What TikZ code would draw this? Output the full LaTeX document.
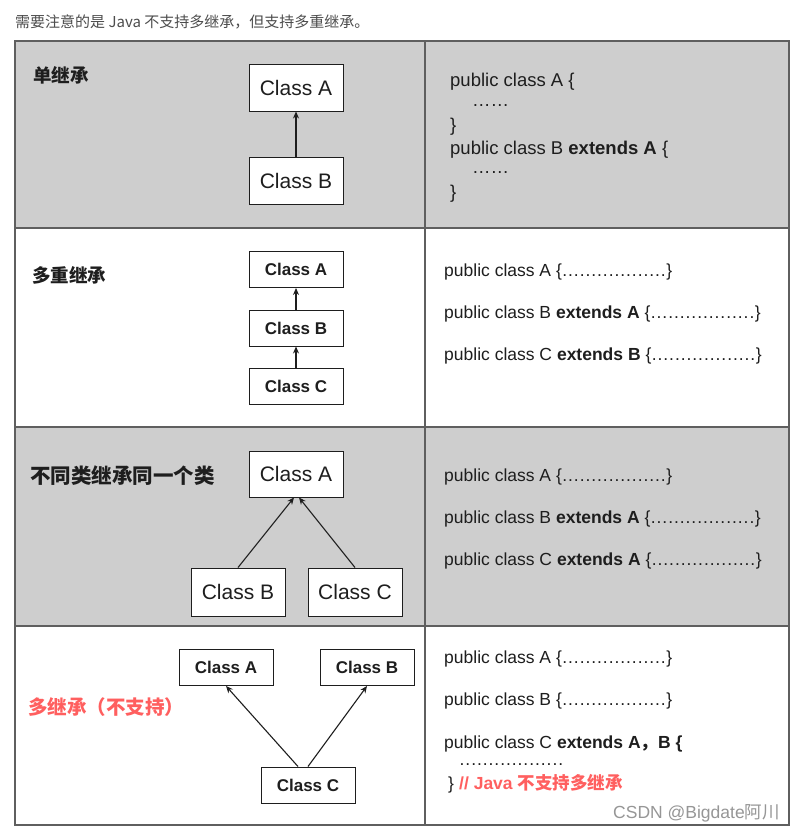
\documentclass[tikz,border=0pt]{standalone}
\usepackage{fontspec}
\setmainfont{Liberation Sans}
\newfontfamily\cjk{Noto Sans CJK SC}
\usetikzlibrary{arrows.meta}
\definecolor{tgray}{RGB}{206,206,206}
\definecolor{tline}{RGB}{95,95,95}
\definecolor{txt}{RGB}{30,30,30}
\definecolor{redtxt}{RGB}{255,95,95}
\definecolor{hdr}{RGB}{77,77,77}
\definecolor{wm}{RGB}{150,150,150}
\newcommand{\dt}{\hbox to 5.8pt{\hss.\hss}}
\newcommand{\dtsix}{\dt\dt\dt\dt\dt\dt}
\newcommand{\dts}{\dtsix\dtsix\dtsix}
\begin{document}
\begin{tikzpicture}[x=1pt,y=-1pt,
 cls/.style={draw=txt, fill=white, line width=1pt, minimum width=94pt, inner sep=0pt, text=txt},
 big/.style={cls, minimum height=47pt, font=\fontsize{21}{24}\selectfont},
 small/.style={cls, minimum height=36pt, font=\fontsize{17}{20}\selectfont\bfseries},
 arr/.style={draw=txt, line width=1.1pt, -{Stealth[length=7pt,width=6pt]}},
 lbl/.style={anchor=base west, inner sep=0pt, text=txt, font=\cjk\bfseries\fontsize{18.5}{22}\selectfont},
 code/.style={anchor=base west, inner sep=0pt, text=txt, font=\fontsize{17.5}{21}\selectfont},
 codebig/.style={anchor=base west, inner sep=0pt, text=txt, font=\fontsize{18.5}{22}\selectfont},
 tbl/.style={draw=tline, line width=1.6pt},
]
\useasboundingbox (0,0) rectangle (798,831);
\fill[white] (0,0) rectangle (798,831);

% header
\node[anchor=base west, inner sep=0pt, text=hdr, font=\cjk\fontsize{15}{18}\selectfont] (hdr) at (15,27.5) {需要注意的是 Java 不支持多继承，但支持多重继承。};

% table backgrounds
\fill[tgray] (15,41) rectangle (789,228);
\fill[tgray] (15,427) rectangle (789,626);
\draw[tbl] (15,41) rectangle (789,825);
\draw[tbl] (15,228) -- (789,228);
\draw[tbl] (15,427) -- (789,427);
\draw[tbl] (15,626) -- (789,626);
\draw[tbl] (425,41) -- (425,825);

% row 1
\node[lbl] (l1) at (33,82) {单继承};
\node[big] (r1a) at (296,87.5) {Class A};
\node[big] (r1b) at (296,181) {Class B};
\draw[arr] (r1b) -- (r1a);
\node[codebig] (c11) at (450,86.5) {public class A \{};
\node[codebig] (c12) at (472,106) {……};
\node[codebig] (c13) at (450,131) {\}};
\node[codebig] (c14) at (450,154.5) {public class B \textbf{extends A} \{};
\node[codebig] (c15) at (472,173.5) {……};
\node[codebig] (c16) at (450,198) {\}};

% row 2
\node[lbl] (l2) at (32,282) {多重继承};
\node[small] (r2a) at (296,269.5) {Class A};
\node[small] (r2b) at (296,328) {Class B};
\node[small] (r2c) at (296,386) {Class C};
\draw[arr] (r2b) -- (r2a);
\draw[arr] (r2c) -- (r2b);
\node[code] (c21) at (444,276.3) {public class A \{\dts\}};
\node[code] (c22) at (444,318.3) {public class B \textbf{extends A} \{\dts\}};
\node[code] (c23) at (444,360.3) {public class C \textbf{extends B} \{\dts\}};

% row 3
\node[lbl, font=\cjk\bfseries\fontsize{20.5}{24}\selectfont] (l3) at (30,483) {不同类继承同一个类};
\node[big, minimum height=46pt] (r3a) at (296,474) {Class A};
\node[big, minimum height=48pt] (r3b) at (238,592) {Class B};
\node[big, minimum height=48pt] (r3c) at (355,592) {Class C};
\draw[arr] (r3b.north) -- ([xshift=-2pt]r3a.south);
\draw[arr] (r3c.north) -- ([xshift=3pt]r3a.south);
\node[code] (c31) at (444,481.3) {public class A \{\dts\}};
\node[code] (c32) at (444,523.3) {public class B \textbf{extends A} \{\dts\}};
\node[code] (c33) at (444,565.3) {public class C \textbf{extends A} \{\dts\}};

% row 4
\node[lbl, text=redtxt, font=\cjk\bfseries\fontsize{19.5}{23}\selectfont] (l4) at (28,714) {多继承（不支持）};
\node[small] (r4a) at (226,667.5) {Class A};
\node[small] (r4b) at (367,667.5) {Class B};
\node[small] (r4c) at (308,785) {Class C};
\draw[arr] ([xshift=-10pt]r4c.north) -- (r4a.south);
\draw[arr] (r4c.north) -- (r4b.south);
\node[code] (c41) at (444,663.3) {public class A \{\dts\}};
\node[code] (c42) at (444,705.3) {public class B \{\dts\}};
\node[code] (c43) at (444,748.3) {public class C \textbf{extends A{\cjk ，}B \{}};
\node[code] (c44) at (459,765) {\dts};
\node[code] (c45) at (448,789) {\}};
\node[code, text=redtxt, font=\fontsize{17.5}{21}\selectfont\bfseries] (c46) at (459,789) {// Java {\cjk 不支持多继承}};

% watermark
\node[anchor=base west, inner sep=0pt, text=wm, font=\fontsize{17.5}{21}\selectfont] (wm) at (613,818) {CSDN @Bigdate{\cjk 阿川}};
\end{tikzpicture}
\end{document}
